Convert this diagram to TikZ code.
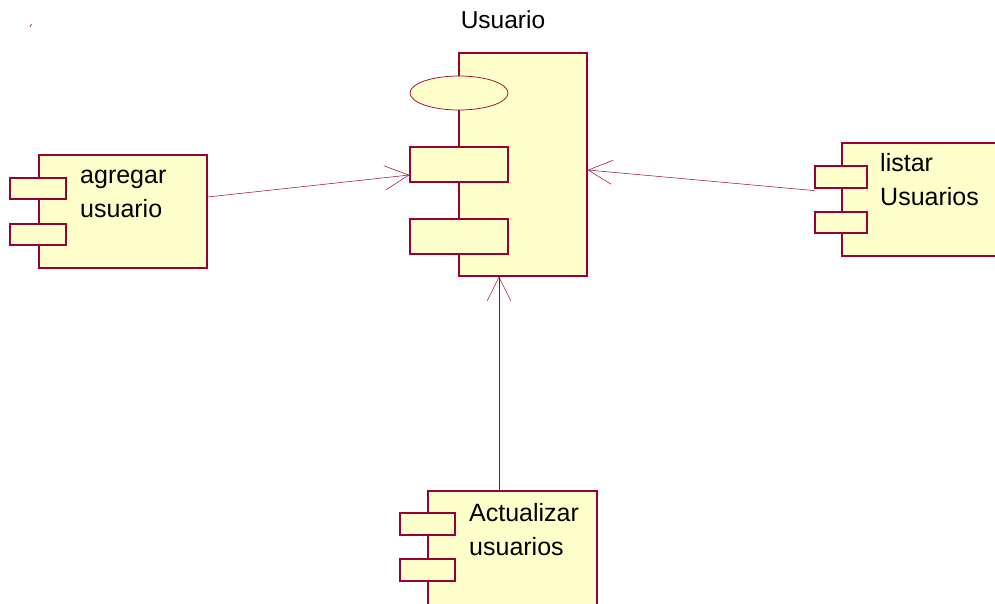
\documentclass[tikz,border=0pt]{standalone}
\usepackage{fontspec}
\setmainfont{Liberation Sans}
\usetikzlibrary{arrows.meta,shapes.geometric}
\definecolor{roseline}{HTML}{990033}
\definecolor{rosefill}{HTML}{FFFFCC}
\tikzset{
  body/.style={draw=roseline,fill=rosefill,line width=1.2pt,inner sep=0,minimum width=#1},
  port/.style={draw=roseline,fill=rosefill,line width=1.2pt,inner sep=0,minimum width=#1},
  lbl/.style={anchor=north west,inner sep=0,align=left,font=\fontsize{25}{34}\selectfont},
  conn/.style={draw=roseline,line width=0.5pt,-{Straight Barb[length=24pt,width=24pt]}}
}
\begin{document}
\begin{tikzpicture}[x=1pt,y=-1pt]
\useasboundingbox[fill=white] (0,0) rectangle (995,603);
\clip (0,0) rectangle (995,603);
\draw[roseline,line width=0.6pt] (30,27) -- (31.5,24);

% Usuario
\node (ttl) at (503,20) {\fontsize{24.5}{30}\selectfont Usuario};
\node[body=128pt,minimum height=223pt] (usr) at (523,164.5) {};
\node[draw=roseline,fill=rosefill,line width=0.7pt,ellipse,inner sep=0,minimum width=98pt,minimum height=34pt] (usre) at (459,93) {};
\node[port=98pt,minimum height=35pt] (usrp1) at (459,164.5) {};
\node[port=98pt,minimum height=35pt] (usrp2) at (459,236.5) {};

% agregar usuario
\node[body=168pt,minimum height=113pt] (agr) at (123,211.5) {};
\node[port=56pt,minimum height=21pt] (agrp1) at (38,188.5) {};
\node[port=56pt,minimum height=21pt] (agrp2) at (38,234.5) {};
\node[lbl] (agrt) at (80,170) {agregar\\usuario};

% listar Usuarios
\node[body=168pt,minimum height=113pt] (lst) at (926,199.5) {};
\node[port=52pt,minimum height=22pt] (lstp1) at (841,177) {};
\node[port=52pt,minimum height=21pt] (lstp2) at (841,222.5) {};
\node[lbl] (lstt) at (880,153) {listar\\Usuarios};

% Actualizar usuarios
\node[body=169pt,minimum height=120pt] (act) at (512.5,551) {};
\node[port=55pt,minimum height=22pt] (actp1) at (427.5,524) {};
\node[port=55pt,minimum height=22pt] (actp2) at (427.5,570) {};
\node[lbl] (actt) at (469,503) {Actualizar\\usuarios};

% dependencias
\draw[conn] ([yshift=14.5pt]agr.east) -- ([yshift=-10.5pt]usrp1.west);
\draw[conn] ([yshift=-2pt]lstp1.south west) -- ([yshift=-5.5pt]usr.east);
\draw[conn] ([xshift=-13.5pt]act.north) -- ([xshift=-24pt]usr.south);
\end{tikzpicture}
\end{document}
